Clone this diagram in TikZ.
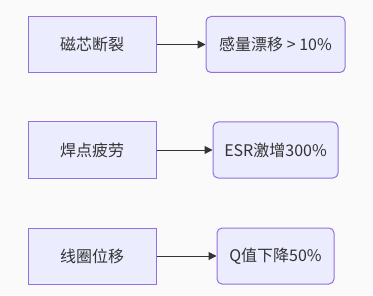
\documentclass[tikz,border=0pt]{standalone}
\usepackage{fontspec}
\setmainfont{Noto Sans CJK SC}
\usepackage{xcolor}
\usetikzlibrary{arrows.meta,positioning}
\definecolor{faultfill}{HTML}{ECECFF}
\definecolor{faultline}{HTML}{9370DB}
\definecolor{faultarrow}{HTML}{333333}
\definecolor{faultbg}{HTML}{FAFAFA}

\begin{document}
\begin{tikzpicture}[x=0.75pt,y=-0.75pt,
    causebox/.style={rectangle,draw=faultline,fill=faultfill,line width=0.75pt,minimum width=96pt,minimum height=42pt,inner sep=0pt,text=faultarrow,font=\fontsize{12pt}{14pt}\selectfont},
    effectbox/.style={causebox,rounded corners=3.75pt},
    link/.style={-{Triangle[length=6pt,width=6pt]},line width=0.75pt,draw=faultarrow}]
        \fill[faultbg] (0,0) rectangle (373,295);
        \useasboundingbox (0,0) rectangle (373,295);

        % failure causes
        \node[causebox] (core) at (92,44.5) {磁芯断裂};
        \node[causebox] (joint) at (92,150) {焊点疲劳};
        \node[causebox] (coil) at (92,256) {线圈位移};

        % resulting effects
        \node[effectbox,minimum width=104.25pt] (drift) at (275.5,44.5) {感量漂移 > 10\%};
        \node[effectbox,minimum width=93.75pt] (esr) at (275.5,150) {ESR激增300\%};
        \node[effectbox,minimum width=87.75pt] (qval) at (275.5,256) {Q值下降50\%};

        \draw[link] (core) -- (drift);
        \draw[link] (joint) -- (esr);
        \draw[link] (coil) -- (qval);
    \end{tikzpicture}
\end{document}
